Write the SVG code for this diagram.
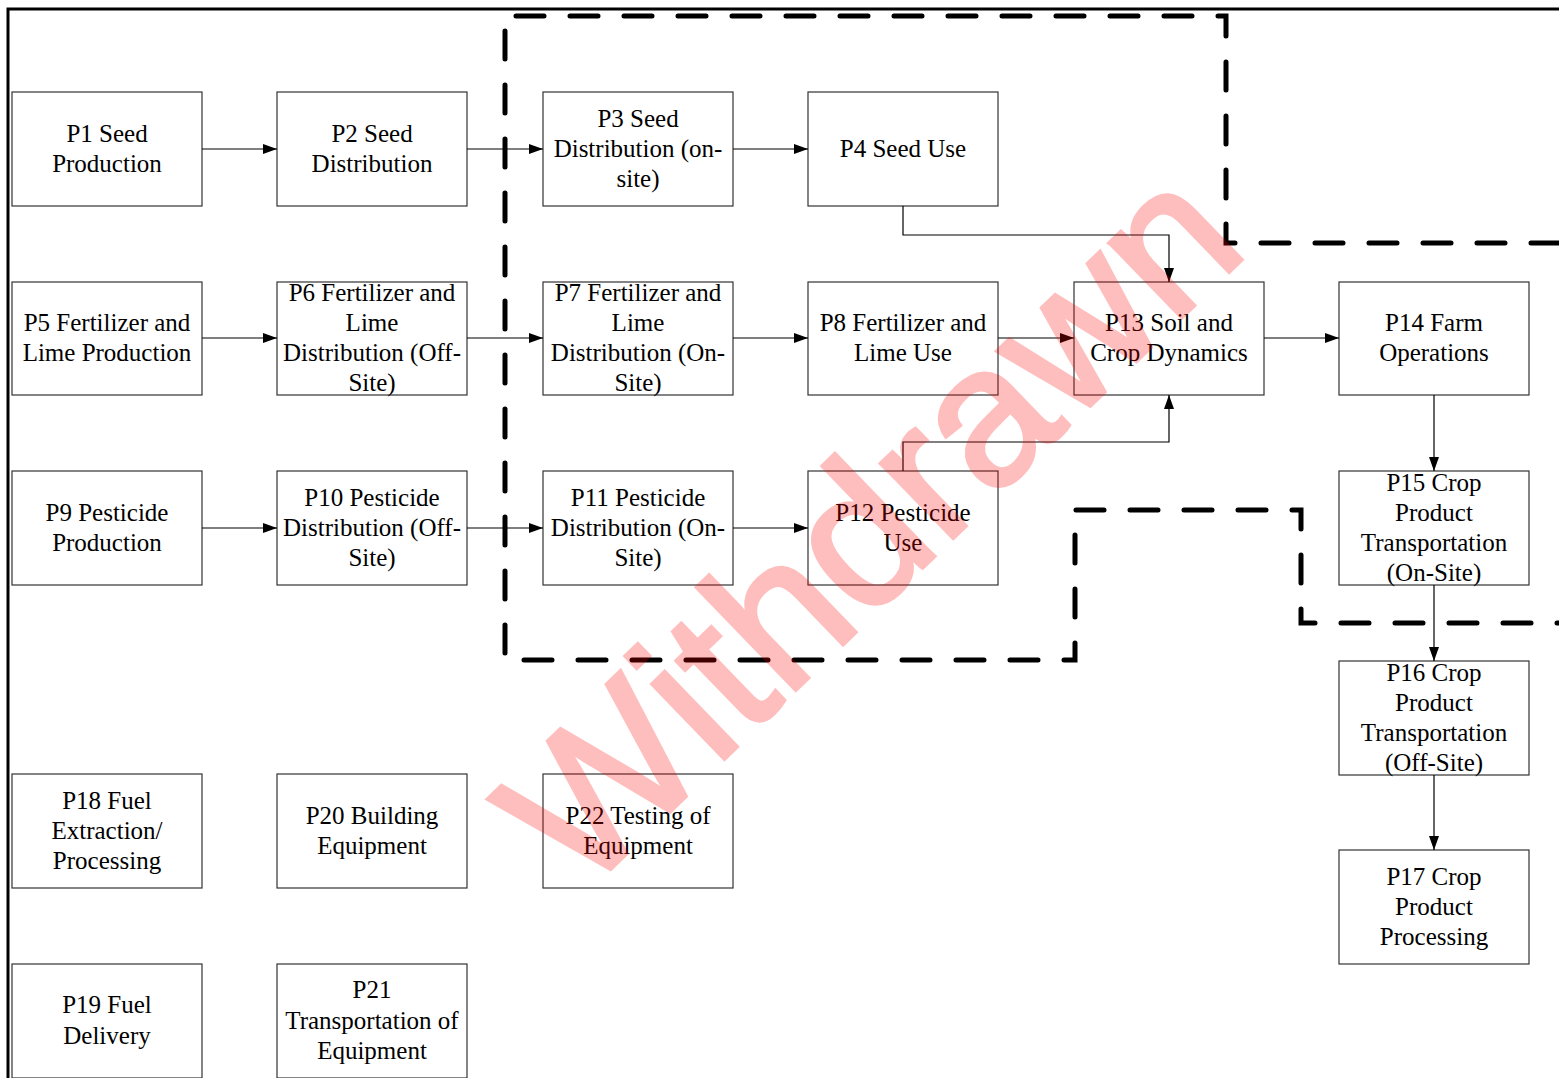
<svg xmlns="http://www.w3.org/2000/svg" width="1559" height="1078" viewBox="0 0 1559 1078">
<style>
.box{fill:#fff;stroke:#333;stroke-width:1.2}
.t{font-family:"Liberation Serif","Times New Roman",serif;font-size:25px;fill:#000;text-anchor:middle}
.c{fill:none;stroke:#000;stroke-width:1.2}
.dash{fill:none;stroke:#000;stroke-width:5;stroke-dasharray:28 26;stroke-linecap:round;stroke-linejoin:miter}
.wm{font-family:"Liberation Sans",Arial,sans-serif;font-size:197px;fill:#ff0000;stroke:#ff0000;stroke-width:4;stroke-linejoin:miter;opacity:0.25;text-anchor:middle}
</style>
<defs>
<marker id="ah" markerUnits="userSpaceOnUse" markerWidth="16" markerHeight="12" refX="14" refY="5" orient="auto">
<path d="M0,0 L14,5 L0,10 z" fill="#000"/>
</marker>
</defs>
<rect x="0" y="0" width="1559" height="1078" fill="#fff"/>
<path d="M8 1078 V9 H1559" fill="none" stroke="#000" stroke-width="3"/>

<g id="P1"><rect class="box" x="12" y="92" width="190" height="114"/><text class="t" x="107" y="142">P1 Seed</text><text class="t" x="107" y="172">Production</text></g>
<g id="P2"><rect class="box" x="277" y="92" width="190" height="114"/><text class="t" x="372" y="142">P2 Seed</text><text class="t" x="372" y="172">Distribution</text></g>
<g id="P3"><rect class="box" x="543" y="92" width="190" height="114"/><text class="t" x="638" y="127">P3 Seed</text><text class="t" x="638" y="157">Distribution (on-</text><text class="t" x="638" y="187">site)</text></g>
<g id="P4"><rect class="box" x="808" y="92" width="190" height="114"/><text class="t" x="903" y="157">P4 Seed Use</text></g>

<g id="P5"><rect class="box" x="12" y="282" width="190" height="113"/><text class="t" x="107" y="331">P5 Fertilizer and</text><text class="t" x="107" y="361">Lime Production</text></g>
<g id="P6"><rect class="box" x="277" y="282" width="190" height="113"/><text class="t" x="372" y="301">P6 Fertilizer and</text><text class="t" x="372" y="331">Lime</text><text class="t" x="372" y="361">Distribution (Off-</text><text class="t" x="372" y="391">Site)</text></g>
<g id="P7"><rect class="box" x="543" y="282" width="190" height="113"/><text class="t" x="638" y="301">P7 Fertilizer and</text><text class="t" x="638" y="331">Lime</text><text class="t" x="638" y="361">Distribution (On-</text><text class="t" x="638" y="391">Site)</text></g>
<g id="P8"><rect class="box" x="808" y="282" width="190" height="113"/><text class="t" x="903" y="331">P8 Fertilizer and</text><text class="t" x="903" y="361">Lime Use</text></g>
<g id="P13"><rect class="box" x="1074" y="282" width="190" height="113"/><text class="t" x="1169" y="331">P13 Soil and</text><text class="t" x="1169" y="361">Crop Dynamics</text></g>
<g id="P14"><rect class="box" x="1339" y="282" width="190" height="113"/><text class="t" x="1434" y="331">P14 Farm</text><text class="t" x="1434" y="361">Operations</text></g>

<g id="P9"><rect class="box" x="12" y="471" width="190" height="114"/><text class="t" x="107" y="521">P9 Pesticide</text><text class="t" x="107" y="551">Production</text></g>
<g id="P10"><rect class="box" x="277" y="471" width="190" height="114"/><text class="t" x="372" y="506">P10 Pesticide</text><text class="t" x="372" y="536">Distribution (Off-</text><text class="t" x="372" y="566">Site)</text></g>
<g id="P11"><rect class="box" x="543" y="471" width="190" height="114"/><text class="t" x="638" y="506">P11 Pesticide</text><text class="t" x="638" y="536">Distribution (On-</text><text class="t" x="638" y="566">Site)</text></g>
<g id="P12"><rect class="box" x="808" y="471" width="190" height="114"/><text class="t" x="903" y="521">P12 Pesticide</text><text class="t" x="903" y="551">Use</text></g>
<g id="P15"><rect class="box" x="1339" y="471" width="190" height="114"/><text class="t" x="1434" y="491">P15 Crop</text><text class="t" x="1434" y="521">Product</text><text class="t" x="1434" y="551">Transportation</text><text class="t" x="1434" y="581">(On-Site)</text></g>

<g id="P16"><rect class="box" x="1339" y="661" width="190" height="114"/><text class="t" x="1434" y="681">P16 Crop</text><text class="t" x="1434" y="711">Product</text><text class="t" x="1434" y="741">Transportation</text><text class="t" x="1434" y="771">(Off-Site)</text></g>
<g id="P17"><rect class="box" x="1339" y="850" width="190" height="114"/><text class="t" x="1434" y="885">P17 Crop</text><text class="t" x="1434" y="915">Product</text><text class="t" x="1434" y="945">Processing</text></g>

<g id="P18"><rect class="box" x="12" y="774" width="190" height="114"/><text class="t" x="107" y="809">P18 Fuel</text><text class="t" x="107" y="839">Extraction/</text><text class="t" x="107" y="869">Processing</text></g>
<g id="P20"><rect class="box" x="277" y="774" width="190" height="114"/><text class="t" x="372" y="824">P20 Building</text><text class="t" x="372" y="854">Equipment</text></g>
<g id="P22"><rect class="box" x="543" y="774" width="190" height="114"/><text class="t" x="638" y="824">P22 Testing of</text><text class="t" x="638" y="854">Equipment</text></g>
<g id="P19"><rect class="box" x="12" y="964" width="190" height="114"/><text class="t" x="107" y="1013">P19 Fuel</text><text class="t" x="107" y="1044">Delivery</text></g>
<g id="P21"><rect class="box" x="277" y="964" width="190" height="114"/><text class="t" x="372" y="998">P21</text><text class="t" x="372" y="1029">Transportation of</text><text class="t" x="372" y="1059">Equipment</text></g>

<g id="connectors">
<line class="c" x1="202" y1="149" x2="277" y2="149" marker-end="url(#ah)"/>
<line class="c" x1="467" y1="149" x2="543" y2="149" marker-end="url(#ah)"/>
<line class="c" x1="733" y1="149" x2="808" y2="149" marker-end="url(#ah)"/>
<path class="c" d="M903 206 V235 H1169 V282" marker-end="url(#ah)"/>
<line class="c" x1="202" y1="338" x2="277" y2="338" marker-end="url(#ah)"/>
<line class="c" x1="467" y1="338" x2="543" y2="338" marker-end="url(#ah)"/>
<line class="c" x1="733" y1="338" x2="808" y2="338" marker-end="url(#ah)"/>
<line class="c" x1="998" y1="338" x2="1074" y2="338" marker-end="url(#ah)"/>
<line class="c" x1="1264" y1="338" x2="1339" y2="338" marker-end="url(#ah)"/>
<line class="c" x1="202" y1="528" x2="277" y2="528" marker-end="url(#ah)"/>
<line class="c" x1="467" y1="528" x2="543" y2="528" marker-end="url(#ah)"/>
<line class="c" x1="733" y1="528" x2="808" y2="528" marker-end="url(#ah)"/>
<path class="c" d="M903 471 V442 H1169 V395" marker-end="url(#ah)"/>
<line class="c" x1="1434" y1="395" x2="1434" y2="471" marker-end="url(#ah)"/>
<line class="c" x1="1434" y1="585" x2="1434" y2="661" marker-end="url(#ah)"/>
<line class="c" x1="1434" y1="775" x2="1434" y2="850" marker-end="url(#ah)"/>
</g>

<path class="dash" d="M1559 243 H1226 V16 H505 V660 H1075 V510 H1301 V623 H1559"/>

<text class="wm" transform="translate(916,574) rotate(-44)">Withdrawn</text>
</svg>
